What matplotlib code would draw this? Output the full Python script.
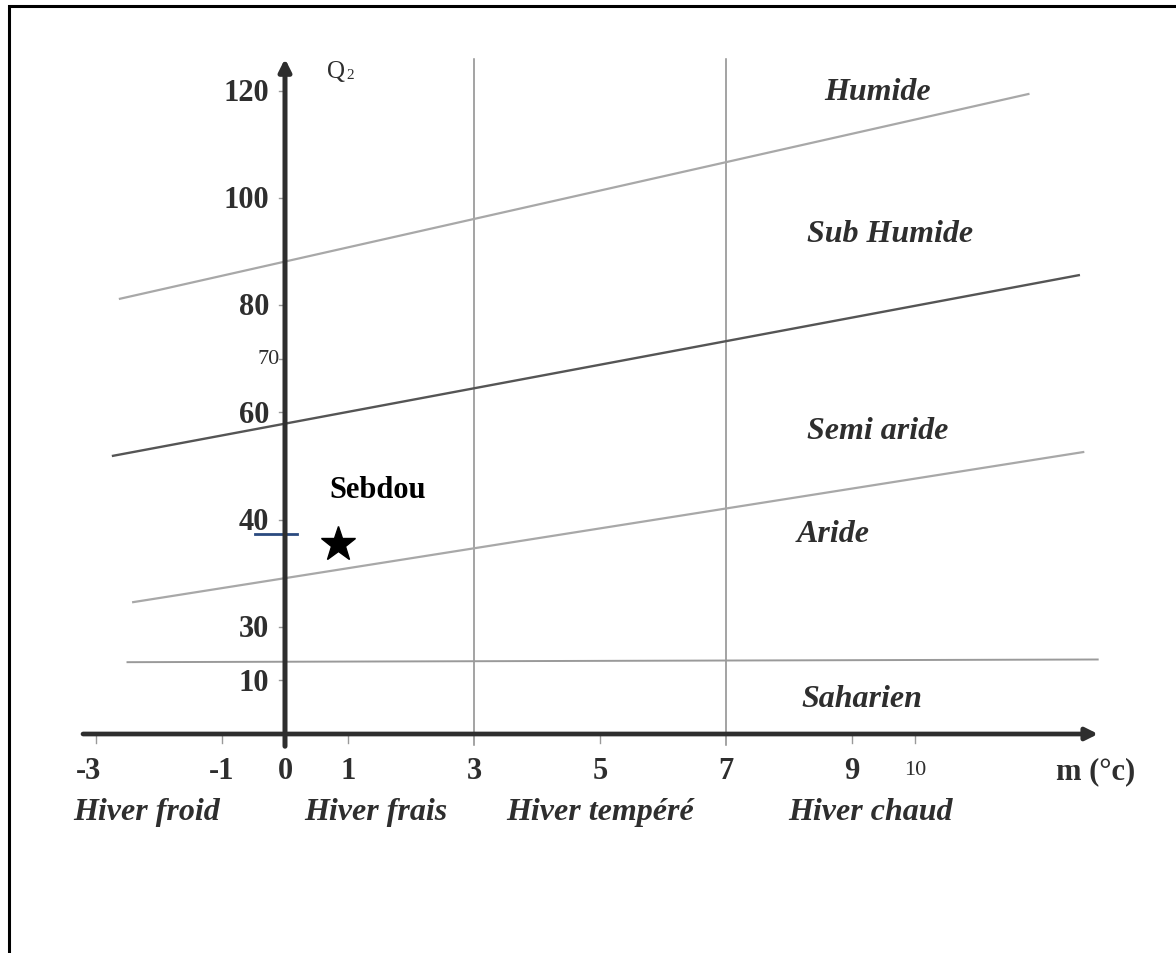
import matplotlib.pyplot as plt
from matplotlib.patches import Rectangle

# x ticks (m, °C)
x_ticks = [-3, -1, 0, 1, 3, 5, 7, 9, 10]
x_small = [10]  # printed in a lighter, smaller font
# y ticks: position on the drawn scale and printed label (scale is not regular)
y_pos = [120, 100, 80, 70, 60, 40, 20, 10]
y_lab = ['120', '100', '80', '70', '60', '40', '30', '10']
y_small = ['70']

# zone boundaries: (m start, Q start), (m end, Q end)
humide_line = [(-2.62, 81.2), (11.8, 119.4)]
semiaride_line = [(-2.73, 51.9), (12.6, 85.6)]
aride_line = [(-2.41, 24.6), (12.67, 52.6)]
saharien_line = [(-2.5, 13.4), (12.9, 13.9)]
winter_lines = [3, 7]

zones = ['Humide', 'Sub Humide', 'Semi aride', 'Aride', 'Saharien']
zone_pos = [(9.4, 119.8), (9.6, 93.4), (9.4, 56.6), (8.7, 37.5), (9.15, 6.6)]
winters = ['Hiver froid', 'Hiver frais', 'Hiver tempéré', 'Hiver chaud']
winter_pos = [-2.19, 1.45, 5.0, 9.3]

# station
station = 'Sebdou'
station_m = 0.84
station_q = 35.4
station_mark = [(-0.48, 37.4), (0.19, 37.4)]

serif = ['Liberation Serif', 'DejaVu Serif']
ink = '#2e2e2e'

fig = plt.figure(figsize=(11.76, 9.54), dpi=100)
ax = fig.add_axes([0, 0, 1, 1])
ax.set_xlim((0 - 285) / 63, (1176 - 285) / 63)
ax.set_ylim((735 - 954) / 5.36, 735 / 5.36)
ax.axis('off')

# outer frame
fig.patches.append(Rectangle((0.008, -0.1), 1.1, 1.093, transform=fig.transFigure,
                             fill=False, ec='black', lw=2.2))

# vertical winter limits
for m in winter_lines:
    ax.plot([m, m], [-2, 126], color='#8a8a8a', lw=1.1)

# zone lines
for ln, c, w in [(humide_line, '#a8a8a8', 1.6), (semiaride_line, '#555555', 1.7),
                 (aride_line, '#a8a8a8', 1.6), (saharien_line, '#9a9a9a', 1.4)]:
    ax.plot([ln[0][0], ln[1][0]], [ln[0][1], ln[1][1]], color=c, lw=w)

# axes with arrows
ax.annotate('', xy=(12.95, 0), xytext=(-3.25, 0),
            arrowprops=dict(arrowstyle='-|>', color='#2e2e2e', lw=3.4, mutation_scale=18))
ax.annotate('', xy=(0, 126.5), xytext=(0, -2.8),
            arrowprops=dict(arrowstyle='-|>', color='#2e2e2e', lw=3.6, mutation_scale=18))

# x ticks and labels
for t in x_ticks:
    if t not in (0, 3, 7):
        ax.plot([t, t], [0, -1.6], color='#999999', lw=1)
    lx = t - 0.12 if t == -3 else t
    if t in x_small:
        ax.text(lx, -6.6, str(t), ha='center', va='center', fontsize=16, family=serif, color=ink)
    else:
        ax.text(lx, -6.8, str(t), ha='center', va='center', fontsize=22, family=serif,
                fontweight='bold', color=ink)
ax.text(12.86, -6.9, 'm (°c)', ha='center', va='center', fontsize=22, family=serif,
        fontweight='bold', color=ink)

# y ticks and labels
for p, lab in zip(y_pos, y_lab):
    ax.plot([-0.1, 0], [p, p], color='#999999', lw=1)
    if lab in y_small:
        ax.text(-0.08, p, lab, ha='right', va='center', fontsize=16, family=serif, color=ink)
    else:
        ax.text(-0.25, p - 0.3, lab, ha='right', va='center', fontsize=22, family=serif,
                fontweight='bold', color=ink)
ax.text(0.81, 123.7, 'Q', ha='center', va='center', fontsize=18, family=serif, color=ink)
ax.text(1.03, 123.0, '2', ha='center', va='center', fontsize=11, family=serif, color=ink)

# zone names
for z, (zm, zq) in zip(zones, zone_pos):
    ax.text(zm, zq, z, ha='center', va='center', fontsize=23, family=serif,
            fontweight='bold', style='italic', color=ink)
for w, wm in zip(winters, winter_pos):
    ax.text(wm, -14.5, w, ha='center', va='center', fontsize=23, family=serif,
            fontweight='bold', style='italic', color=ink)

# station
ax.plot([station_mark[0][0], station_mark[1][0]], [station_mark[0][1], station_mark[1][1]],
        color='#2a4a7f', lw=2)
ax.plot(station_m, station_q, marker='*', color='black', markersize=26, ls='none')
ax.text(1.47, 45.6, station, ha='center', va='center', fontsize=22, family=serif,
        fontweight='bold', color='black')

fig.savefig('out.png', dpi=100)
